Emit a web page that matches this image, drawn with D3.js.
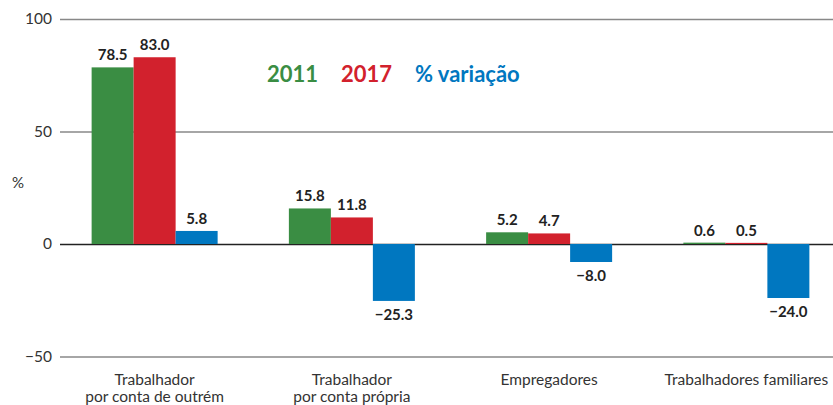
<!DOCTYPE html>
<html>
<head>
<meta charset="utf-8">
<script src="https://cdn.jsdelivr.net/npm/d3@7"></script>
<style>
  body { margin: 0; background: #fff; }
  text { font-family: Lato, "Open Sans", sans-serif; }
</style>
</head>
<body>
<div id="chart"></div>
<script>
// data
var categories = [["Trabalhador", "por conta de outrém"], ["Trabalhador", "por conta própria"], ["Empregadores"], ["Trabalhadores familiares"]];
var seriesNames = ["2011", "2017", "% variação"];
var values2011 = [78.5, 15.8, 5.2, 0.6];
var values2017 = [83.0, 11.8, 4.7, 0.5];
var valuesVar = [5.8, -25.3, -8.0, -24.0];
var yTicks = [100, 50, 0, -50];
var colors = ["#3a8d43", "#d2212d", "#0077c0"];

var svgWidth = 833;
var svgHeight = 405;

var svg = d3.select("#chart")
  .append("svg")
  .attr("width", svgWidth)
  .attr("height", svgHeight);

var y = d3.scaleLinear().domain([-50, 100]).range([356.5, 19]);

var x0 = d3.scaleBand()
  .domain(d3.range(categories.length))
  .range([56, 845]);

var groupW = 126;
var x1 = d3.scaleBand()
  .domain(d3.range(seriesNames.length))
  .range([0, groupW]);

// grid + ticks
var yAxis = svg.append("g")
  .attr("transform", "translate(60,0)")
  .call(d3.axisRight(y).tickValues(yTicks).tickSize(773).tickFormat(d => d < 0 ? "\u2212" + Math.abs(d) : d));
yAxis.select(".domain").remove();
yAxis.selectAll(".tick line")
  .attr("stroke", d => d === 0 ? "#222" : "#888")
  .attr("stroke-width", 1.5);
yAxis.selectAll(".tick text")
  .attr("x", -8)
  .attr("text-anchor", "end")
  .attr("font-size", "15.5px")
  .attr("fill", "#333");

svg.append("text")
  .attr("x", 18)
  .attr("y", 188)
  .attr("text-anchor", "middle")
  .attr("font-size", "15px")
  .attr("fill", "#333")
  .text("%");

// bars
var allSeries = [values2011, values2017, valuesVar];
var rows = [];
allSeries.forEach(function (vals, s) {
  vals.forEach(function (v, i) {
    rows.push({ s: s, i: i, v: v });
  });
});

function barX(d) {
  return x0(d.i) + (x0.bandwidth() - groupW) / 2 + x1(d.s);
}

svg.append("g").selectAll("rect")
  .data(rows)
  .enter()
  .append("rect")
  .attr("x", d => barX(d))
  .attr("width", x1.bandwidth())
  .attr("y", d => y(Math.max(0, d.v)))
  .attr("height", d => Math.abs(y(d.v) - y(0)))
  .attr("fill", d => colors[d.s]);

// value labels
svg.append("g").selectAll("text")
  .data(rows)
  .enter()
  .append("text")
  .attr("x", d => barX(d) + x1.bandwidth() / 2)
  .attr("y", d => d.v >= 0 ? y(d.v) - 7 : y(d.v) + 19)
  .attr("text-anchor", "middle")
  .attr("font-size", "15px")
  .attr("font-weight", "bold")
  .attr("fill", "#222")
  .text(d => d.v < 0 ? "\u2212" + Math.abs(d.v).toFixed(1) : d.v.toFixed(1));

// category labels
var catG = svg.append("g").selectAll("text")
  .data(categories)
  .enter()
  .append("text")
  .attr("x", (d, i) => x0(i) + x0.bandwidth() / 2)
  .attr("y", 385)
  .attr("text-anchor", "middle")
  .attr("font-size", "15.5px")
  .attr("fill", "#333");
catG.selectAll("tspan")
  .data(d => d)
  .enter()
  .append("tspan")
  .attr("x", function () { return d3.select(this.parentNode).attr("x"); })
  .attr("dy", (d, j) => j === 0 ? 0 : 17)
  .text(d => d);

// legend
var legendX = [267, 341, 415];
svg.append("g").selectAll("text")
  .data(seriesNames)
  .enter()
  .append("text")
  .attr("x", (d, i) => legendX[i])
  .attr("y", 82)
  .attr("font-size", "22px")
  .attr("font-weight", "bold")
  .attr("fill", (d, i) => colors[i])
  .text(d => d);
</script>
</body>
</html>
